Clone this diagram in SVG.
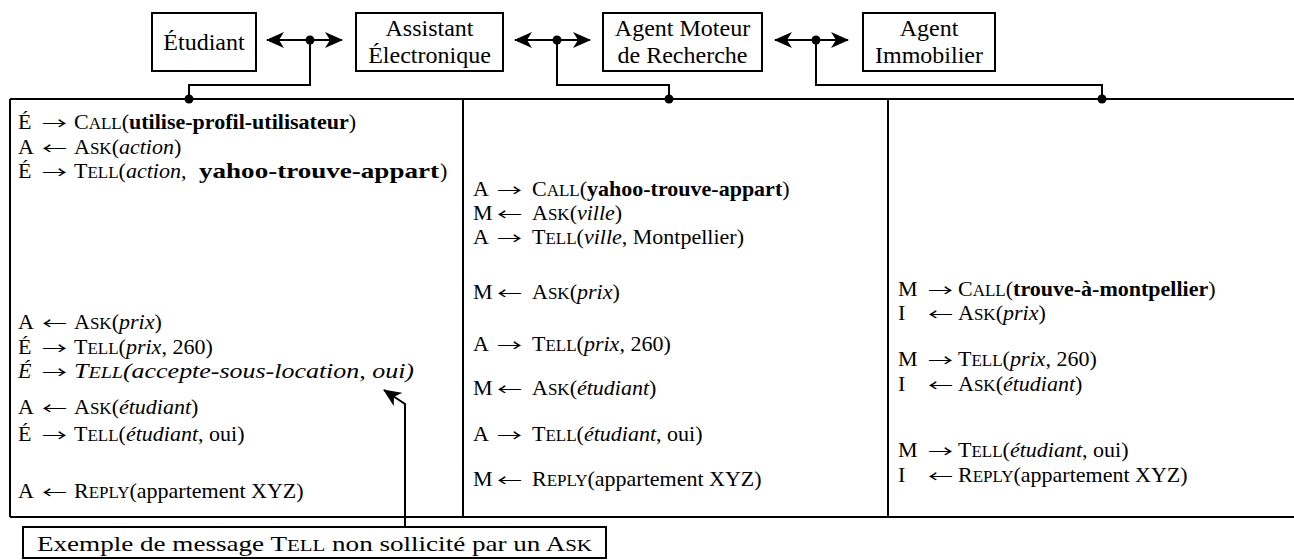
<svg xmlns="http://www.w3.org/2000/svg" width="1294" height="560" viewBox="0 0 1294 560">
  <style>
    .t { font-family: "Liberation Serif", "Times New Roman", serif; font-size: 22px; fill: #000; }
    .h { font-family: "Liberation Serif", "Times New Roman", serif; font-size: 24px; fill: #000; text-anchor: middle; }
    .ar { font-family: "Noto Sans CJK JP", "DejaVu Sans", sans-serif; font-size: 16px; fill: #000; }
    .sc { font-size: 17px; }
    .b { font-weight: bold; }
    .i { font-style: italic; }
    .box { fill: #fff; stroke: #000; stroke-width: 2; }
    .ln { fill: none; stroke: #000; stroke-width: 2; }
    .dot { fill: #000; }
  </style>
  <defs>
    <marker id="head" viewBox="0 0 18 16" refX="17" refY="8" markerWidth="18" markerHeight="16" markerUnits="userSpaceOnUse" orient="auto-start-reverse">
      <path d="M0,0 L18,8 L0,16 L5,8 Z" fill="#000"/>
    </marker>
  </defs>

  <!-- agents -->
  <g id="etudiant">
    <rect class="box" x="152" y="13" width="104" height="58"/>
    <text class="h" x="204" y="50">Étudiant</text>
  </g>
  <g id="assistant">
    <rect class="box" x="356" y="13" width="147" height="58"/>
    <text class="h" x="429.5" y="36">Assistant</text>
    <text class="h" x="429.5" y="63">Électronique</text>
  </g>
  <g id="moteur">
    <rect class="box" x="603" y="13" width="159" height="58"/>
    <text class="h" x="682.5" y="36">Agent Moteur</text>
    <text class="h" x="682.5" y="63">de Recherche</text>
  </g>
  <g id="immobilier">
    <rect class="box" x="863" y="13" width="132" height="58"/>
    <text class="h" x="929" y="36">Agent</text>
    <text class="h" x="929" y="63">Immobilier</text>
  </g>

  <!-- message table frame -->
  <g id="table">
    <path class="ln" d="M10,99 H1294 M10,517 H1294 M10,99 V517 M463,99 V517 M888,99 V517"/>
  </g>

  <!-- links between agents and their dialogue columns -->
  <g id="connectors">
    <line class="ln" x1="267" y1="40" x2="342" y2="40" marker-start="url(#head)" marker-end="url(#head)"/>
    <line class="ln" x1="515" y1="40" x2="590" y2="40" marker-start="url(#head)" marker-end="url(#head)"/>
    <line class="ln" x1="775" y1="40" x2="848" y2="40" marker-start="url(#head)" marker-end="url(#head)"/>
    <path class="ln" d="M310,40 V85 H189 V99"/>
    <path class="ln" d="M557,40 V85 H669 V99"/>
    <path class="ln" d="M816,40 V85 H1102 V99"/>
    <circle class="dot" cx="310" cy="40" r="4.5"/>
    <circle class="dot" cx="557" cy="40" r="4.5"/>
    <circle class="dot" cx="816" cy="40" r="4.5"/>
    <circle class="dot" cx="189" cy="99" r="4.5"/>
    <circle class="dot" cx="669" cy="99" r="4.5"/>
    <circle class="dot" cx="1102" cy="99" r="4.5"/>
    <path class="ln" d="M405,527 V404 L384,390" marker-end="url(#head)"/>
  </g>

  <!-- column 1: Étudiant / Assistant -->
  <g id="col-etudiant">
    <text class="t" x="18" y="129">É</text><text class="ar" x="42" y="129" textLength="25" lengthAdjust="spacingAndGlyphs">→</text>
    <text class="t" x="74" y="129">C<tspan class="sc">ALL</tspan>(<tspan class="b">utilise-profil-utilisateur</tspan>)</text>
    <text class="t" x="18" y="154">A</text><text class="ar" x="42" y="154" textLength="25" lengthAdjust="spacingAndGlyphs">←</text>
    <text class="t" x="74" y="154">A<tspan class="sc">SK</tspan>(<tspan class="i">action</tspan>)</text>
    <text class="t" x="18" y="178">É</text><text class="ar" x="42" y="178" textLength="25" lengthAdjust="spacingAndGlyphs">→</text>
    <text class="t" x="74" y="178">T<tspan class="sc">ELL</tspan>(<tspan class="i">action</tspan>,</text>
    <text class="t b" x="199" y="178" textLength="240" lengthAdjust="spacingAndGlyphs">yahoo-trouve-appart</text>
    <text class="t" x="440" y="178">)</text>
    <text class="t" x="18" y="329">A</text><text class="ar" x="42" y="329" textLength="25" lengthAdjust="spacingAndGlyphs">←</text>
    <text class="t" x="74" y="329">A<tspan class="sc">SK</tspan>(<tspan class="i">prix</tspan>)</text>
    <text class="t" x="18" y="354">É</text><text class="ar" x="42" y="354" textLength="25" lengthAdjust="spacingAndGlyphs">→</text>
    <text class="t" x="74" y="354">T<tspan class="sc">ELL</tspan>(<tspan class="i">prix</tspan>, 260)</text>
    <text class="t i" x="18" y="378">É</text><text class="ar" x="42" y="378" textLength="25" lengthAdjust="spacingAndGlyphs">→</text>
    <text class="t i" x="74" y="378" textLength="340" lengthAdjust="spacingAndGlyphs">T<tspan class="sc">ELL</tspan>(accepte-sous-location, oui)</text>
    <text class="t" x="18" y="414">A</text><text class="ar" x="42" y="414" textLength="25" lengthAdjust="spacingAndGlyphs">←</text>
    <text class="t" x="74" y="414">A<tspan class="sc">SK</tspan>(<tspan class="i">étudiant</tspan>)</text>
    <text class="t" x="18" y="441">É</text><text class="ar" x="42" y="441" textLength="25" lengthAdjust="spacingAndGlyphs">→</text>
    <text class="t" x="74" y="441">T<tspan class="sc">ELL</tspan>(<tspan class="i">étudiant</tspan>, oui)</text>
    <text class="t" x="18" y="498">A</text><text class="ar" x="42" y="498" textLength="25" lengthAdjust="spacingAndGlyphs">←</text>
    <text class="t" x="74" y="498">R<tspan class="sc">EPLY</tspan>(appartement XYZ)</text>
  </g>

  <!-- column 2: Assistant / Moteur de recherche -->
  <g id="col-moteur">
    <text class="t" x="473" y="196">A</text><text class="ar" x="497" y="196" textLength="25" lengthAdjust="spacingAndGlyphs">→</text>
    <text class="t" x="532" y="196">C<tspan class="sc">ALL</tspan>(<tspan class="b">yahoo-trouve-appart</tspan>)</text>
    <text class="t" x="473" y="220">M</text><text class="ar" x="497" y="220" textLength="25" lengthAdjust="spacingAndGlyphs">←</text>
    <text class="t" x="532" y="220">A<tspan class="sc">SK</tspan>(<tspan class="i">ville</tspan>)</text>
    <text class="t" x="473" y="244">A</text><text class="ar" x="497" y="244" textLength="25" lengthAdjust="spacingAndGlyphs">→</text>
    <text class="t" x="532" y="244">T<tspan class="sc">ELL</tspan>(<tspan class="i">ville</tspan>, Montpellier)</text>
    <text class="t" x="473" y="299">M</text><text class="ar" x="497" y="299" textLength="25" lengthAdjust="spacingAndGlyphs">←</text>
    <text class="t" x="532" y="299">A<tspan class="sc">SK</tspan>(<tspan class="i">prix</tspan>)</text>
    <text class="t" x="473" y="351">A</text><text class="ar" x="497" y="351" textLength="25" lengthAdjust="spacingAndGlyphs">→</text>
    <text class="t" x="532" y="351">T<tspan class="sc">ELL</tspan>(<tspan class="i">prix</tspan>, 260)</text>
    <text class="t" x="473" y="395">M</text><text class="ar" x="497" y="395" textLength="25" lengthAdjust="spacingAndGlyphs">←</text>
    <text class="t" x="532" y="395">A<tspan class="sc">SK</tspan>(<tspan class="i">étudiant</tspan>)</text>
    <text class="t" x="473" y="441">A</text><text class="ar" x="497" y="441" textLength="25" lengthAdjust="spacingAndGlyphs">→</text>
    <text class="t" x="532" y="441">T<tspan class="sc">ELL</tspan>(<tspan class="i">étudiant</tspan>, oui)</text>
    <text class="t" x="473" y="486">M</text><text class="ar" x="497" y="486" textLength="25" lengthAdjust="spacingAndGlyphs">←</text>
    <text class="t" x="532" y="486">R<tspan class="sc">EPLY</tspan>(appartement XYZ)</text>
  </g>

  <!-- column 3: Moteur / Agent immobilier -->
  <g id="col-immobilier">
    <text class="t" x="898" y="296">M</text><text class="ar" x="928" y="296" textLength="25" lengthAdjust="spacingAndGlyphs">→</text>
    <text class="t" x="958" y="296">C<tspan class="sc">ALL</tspan>(<tspan class="b">trouve-à-montpellier</tspan>)</text>
    <text class="t" x="898" y="320">I</text><text class="ar" x="928" y="320" textLength="25" lengthAdjust="spacingAndGlyphs">←</text>
    <text class="t" x="958" y="320">A<tspan class="sc">SK</tspan>(<tspan class="i">prix</tspan>)</text>
    <text class="t" x="898" y="366">M</text><text class="ar" x="928" y="366" textLength="25" lengthAdjust="spacingAndGlyphs">→</text>
    <text class="t" x="958" y="366">T<tspan class="sc">ELL</tspan>(<tspan class="i">prix</tspan>, 260)</text>
    <text class="t" x="898" y="391">I</text><text class="ar" x="928" y="391" textLength="25" lengthAdjust="spacingAndGlyphs">←</text>
    <text class="t" x="958" y="391">A<tspan class="sc">SK</tspan>(<tspan class="i">étudiant</tspan>)</text>
    <text class="t" x="898" y="457">M</text><text class="ar" x="928" y="457" textLength="25" lengthAdjust="spacingAndGlyphs">→</text>
    <text class="t" x="958" y="457">T<tspan class="sc">ELL</tspan>(<tspan class="i">étudiant</tspan>, oui)</text>
    <text class="t" x="898" y="482">I</text><text class="ar" x="928" y="482" textLength="25" lengthAdjust="spacingAndGlyphs">←</text>
    <text class="t" x="958" y="482">R<tspan class="sc">EPLY</tspan>(appartement XYZ)</text>
  </g>

  <!-- annotation -->
  <g id="note">
    <rect class="box" x="23" y="527" width="583" height="31"/>
    <text class="t" x="37" y="551" font-size="23" textLength="555" lengthAdjust="spacingAndGlyphs">Exemple de message T<tspan class="sc">ELL</tspan> non sollicité par un A<tspan class="sc">SK</tspan></text>
  </g>
</svg>
